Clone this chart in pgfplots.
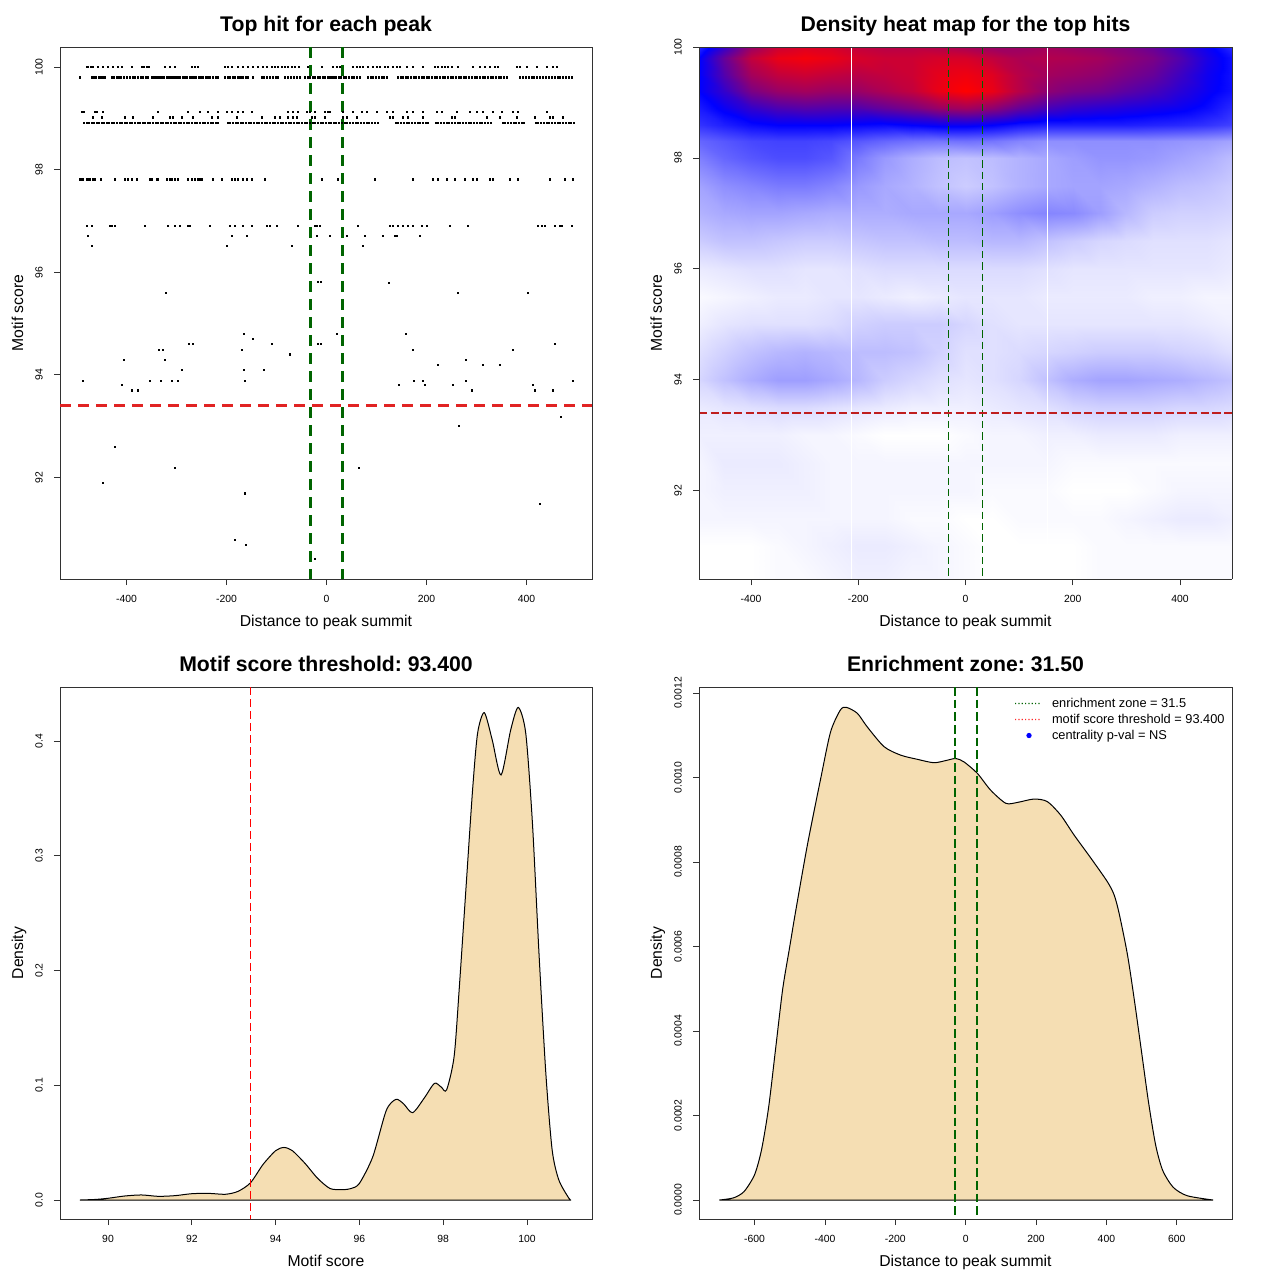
\documentclass[border=0pt]{standalone}
\usepackage{pgfplots}
\pgfplotsset{compat=1.18}
\usepackage{fontspec}
\setmainfont{Liberation Sans}
\definecolor{wheat}{RGB}{245,222,179}
\definecolor{dkgreen}{RGB}{0,100,0}
\definecolor{rline}{RGB}{225,35,35}
\definecolor{frm}{RGB}{50,50,50}
\pgfplotsset{
  rbase/.style={
    scale only axis, width=399pt, height=399pt,
    axis line style={frm, line width=0.6pt},
    every tick/.style={frm, line width=0.6pt},
    tick align=outside, major tick length=4.5pt,
    ticklabel style={font=\fontsize{7.8}{9}\selectfont},
    /pgf/number format/assume math mode=true,
    xticklabel style={anchor=base, yshift=-12.9pt},
    yticklabel style={rotate=90, anchor=south, inner xsep=0pt, inner ysep=8.25pt},
    label style={font=\fontsize{11.8}{14}\selectfont},
    xlabel style={at={(axis description cs:0.5,0)}, anchor=base, yshift=-35.25pt},
    ylabel style={at={(axis description cs:-0.0695,0.5)}, anchor=base},
    title style={font=\bfseries\fontsize{15.9}{19}\selectfont, at={(axis description cs:0.5,1)}, anchor=base, yshift=5.3pt},
  },
  sc/.style={only marks, mark=square*, mark size=0.45pt, black, mark options={draw=none}},
  leggreen/.style={legend image code/.code={\path[draw=none, fill=none] (0pt,-3pt) rectangle (27.75pt,3pt);
    \path[fill=dkgreen, draw=none] (0pt,-0.45pt) rectangle (0.9pt,0.45pt) (2.5pt,-0.45pt) rectangle (3.4pt,0.45pt) (5pt,-0.45pt) rectangle (5.9pt,0.45pt) (7.5pt,-0.45pt) rectangle (8.4pt,0.45pt) (10pt,-0.45pt) rectangle (10.9pt,0.45pt) (12.5pt,-0.45pt) rectangle (13.4pt,0.45pt) (15pt,-0.45pt) rectangle (15.9pt,0.45pt) (17.5pt,-0.45pt) rectangle (18.4pt,0.45pt);}},
  legred/.style={legend image code/.code={\path[draw=none, fill=none] (0pt,-3pt) rectangle (27.75pt,3pt);
    \path[fill=red!85, draw=none] (0pt,-0.45pt) rectangle (0.9pt,0.45pt) (2.5pt,-0.45pt) rectangle (3.4pt,0.45pt) (5pt,-0.45pt) rectangle (5.9pt,0.45pt) (7.5pt,-0.45pt) rectangle (8.4pt,0.45pt) (10pt,-0.45pt) rectangle (10.9pt,0.45pt) (12.5pt,-0.45pt) rectangle (13.4pt,0.45pt) (15pt,-0.45pt) rectangle (15.9pt,0.45pt) (17.5pt,-0.45pt) rectangle (18.4pt,0.45pt);}},
  legdot/.style={legend image code/.code={\path[draw=none, fill=none] (0pt,-3pt) rectangle (27.75pt,3pt); \path[fill=blue, draw=none] (10.5pt,0pt) circle (2pt);}},
}
\begin{document}
\frenchspacing
\begin{tikzpicture}
\path[use as bounding box, fill=white] (0pt,0pt) rectangle (960pt,-960pt);

% ---------------- Top left ----------------
\begin{axis}[rbase, at={(45pt,-434.25pt)}, anchor=south west,
  xmin=-533, xmax=531, ymin=90.02, ymax=100.39,
  xtick={-400,-200,0,200,400}, ytick={92,94,96,98,100},
  xtick pos=left, ytick pos=left,
  title={Top hit for each peak}, xlabel={Distance to peak summit}, ylabel={Motif score}]
\addplot[sc] coordinates {(-480,100) (-477,100) (-471,100) (-467,100) (-457,100) (-447,100) (-437,100) (-427,100) (-417,100) (-410,100) (-390,100) (-370,100) (-365,100) (-360,100) (-355,100) (-323,100) (-313,100) (-303,100) (-269,100) (-263,100) (-258,100) (-203,100) (-197,100) (-190,100) (-177,100) (-167,100) (-157,100) (-147,100) (-137,100) (-127,100) (-120,100) (-110,100) (-103,100) (-97,100) (-90,100) (-83,100) (-77,100) (-70,100) (-63,100) (-55,100) (-37,100) (-10,100) (13,100) (20,100) (27,100) (53,100) (60,100) (67,100) (73,100) (83,100) (93,100) (100,100) (107,100) (117,100) (123,100) (133,100) (140,100) (147,100) (160,100) (173,100) (193,100) (217,100) (223,100) (230,100) (237,100) (243,100) (250,100) (263,100) (293,100) (307,100) (317,100) (327,100) (337,100) (343,100) (380,100) (387,100) (400,100) (420,100) (440,100) (453,100) (460,100)};
\addplot[sc] coordinates {(-493,99.8) (-470,99.8) (-465,99.8) (-461,99.8) (-456,99.8) (-452,99.8) (-447,99.8) (-443,99.8) (-430,99.8) (-425,99.8) (-420,99.8) (-416,99.8) (-411,99.8) (-405,99.8) (-400,99.8) (-393,99.8) (-388,99.8) (-383,99.8) (-378,99.8) (-372,99.8) (-367,99.8) (-362,99.8) (-357,99.8) (-350,99.8) (-346,99.8) (-342,99.8) (-337,99.8) (-333,99.8) (-329,99.8) (-325,99.8) (-320,99.8) (-316,99.8) (-312,99.8) (-308,99.8) (-304,99.8) (-300,99.8) (-297,99.8) (-293,99.8) (-288,99.8) (-284,99.8) (-279,99.8) (-274,99.8) (-270,99.8) (-265,99.8) (-261,99.8) (-256,99.8) (-252,99.8) (-247,99.8) (-242,99.8) (-237,99.8) (-233,99.8) (-228,99.8) (-222,99.8) (-217,99.8) (-203,99.8) (-198,99.8) (-193,99.8) (-188,99.8) (-183,99.8) (-178,99.8) (-174,99.8) (-170,99.8) (-167,99.8) (-162,99.8) (-157,99.8) (-147,99.8) (-130,99.8) (-125,99.8) (-119,99.8) (-113,99.8) (-108,99.8) (-102,99.8) (-97,99.8) (-83,99.8) (-78,99.8) (-72,99.8) (-66,99.8) (-60,99.8) (-53,99.8) (-43,99.8) (-38,99.8) (-33,99.8) (-28,99.8) (-23,99.8) (-18,99.8) (-13,99.8) (-8,99.8) (-3,99.8) (2,99.8) (6,99.8) (10,99.8) (14,99.8) (19,99.8) (24,99.8) (29,99.8) (34,99.8) (39,99.8) (44,99.8) (50,99.8) (55,99.8) (61,99.8) (67,99.8) (83,99.8) (88,99.8) (93,99.8) (99,99.8) (104,99.8) (110,99.8) (115,99.8) (120,99.8) (143,99.8) (148,99.8) (153,99.8) (158,99.8) (163,99.8) (168,99.8) (174,99.8) (179,99.8) (184,99.8) (190,99.8) (195,99.8) (200,99.8) (205,99.8) (211,99.8) (216,99.8) (221,99.8) (226,99.8) (232,99.8) (237,99.8) (242,99.8) (248,99.8) (253,99.8) (258,99.8) (264,99.8) (269,99.8) (274,99.8) (279,99.8) (285,99.8) (290,99.8) (296,99.8) (301,99.8) (306,99.8) (312,99.8) (317,99.8) (322,99.8) (328,99.8) (333,99.8) (338,99.8) (344,99.8) (349,99.8) (355,99.8) (360,99.8) (387,99.8) (393,99.8) (398,99.8) (404,99.8) (410,99.8) (415,99.8) (421,99.8) (427,99.8) (433,99.8) (438,99.8) (444,99.8) (450,99.8) (456,99.8) (462,99.8) (467,99.8) (473,99.8) (479,99.8) (485,99.8) (490,99.8)};
\addplot[sc] coordinates {(-489,99.12) (-485,99.12) (-463,99.12) (-460,99.12) (-447,99.12) (-337,99.12) (-277,99.12) (-253,99.12) (-237,99.12) (-217,99.12) (-200,99.12) (-190,99.12) (-177,99.12) (-167,99.12) (-150,99.12) (-77,99.12) (-67,99.12) (-57,99.12) (-40,99.12) (-33,99.12) (-23,99.12) (-3,99.12) (3,99.12) (7,99.12) (33,99.12) (53,99.12) (70,99.12) (80,99.12) (100,99.12) (120,99.12) (133,99.12) (160,99.12) (173,99.12) (193,99.12) (220,99.12) (230,99.12) (260,99.12) (287,99.12) (300,99.12) (313,99.12) (333,99.12) (350,99.12) (373,99.12) (383,99.12) (440,99.12)};
\addplot[sc] coordinates {(-467,99.02) (-450,99.02) (-403,99.02) (-387,99.02) (-347,99.02) (-313,99.02) (-307,99.02) (-290,99.02) (-267,99.02) (-230,99.02) (-217,99.02) (-180,99.02) (-130,99.02) (-103,99.02) (-93,99.02) (-77,99.02) (-67,99.02) (-60,99.02) (-30,99.02) (-23,99.02) (-3,99.02) (33,99.02) (40,99.02) (60,99.02) (127,99.02) (133,99.02) (153,99.02) (163,99.02) (193,99.02) (250,99.02) (257,99.02) (320,99.02) (347,99.02) (380,99.02) (417,99.02) (447,99.02) (453,99.02) (473,99.02)};
\addplot[sc] coordinates {(-485,98.91) (-480,98.91) (-475,98.91) (-470,98.91) (-465,98.91) (-460,98.91) (-455,98.91) (-450,98.91) (-445,98.91) (-440,98.91) (-435,98.91) (-430,98.91) (-425,98.91) (-420,98.91) (-414,98.91) (-409,98.91) (-404,98.91) (-399,98.91) (-394,98.91) (-389,98.91) (-384,98.91) (-378,98.91) (-373,98.91) (-368,98.91) (-363,98.91) (-358,98.91) (-353,98.91) (-348,98.91) (-342,98.91) (-337,98.91) (-332,98.91) (-327,98.91) (-322,98.91) (-317,98.91) (-312,98.91) (-306,98.91) (-301,98.91) (-296,98.91) (-291,98.91) (-286,98.91) (-280,98.91) (-275,98.91) (-270,98.91) (-264,98.91) (-259,98.91) (-254,98.91) (-248,98.91) (-243,98.91) (-238,98.91) (-232,98.91) (-227,98.91) (-222,98.91) (-217,98.91) (-198,98.91) (-193,98.91) (-188,98.91) (-182,98.91) (-177,98.91) (-172,98.91) (-167,98.91) (-161,98.91) (-156,98.91) (-151,98.91) (-146,98.91) (-140,98.91) (-135,98.91) (-130,98.91) (-124,98.91) (-119,98.91) (-114,98.91) (-108,98.91) (-103,98.91) (-98,98.91) (-92,98.91) (-87,98.91) (-82,98.91) (-76,98.91) (-71,98.91) (-66,98.91) (-60,98.91) (-55,98.91) (-50,98.91) (-44,98.91) (-39,98.91) (-34,98.91) (-28,98.91) (-23,98.91) (-18,98.91) (-12,98.91) (-7,98.91) (-2,98.91) (4,98.91) (9,98.91) (14,98.91) (19,98.91) (25,98.91) (30,98.91) (36,98.91) (41,98.91) (47,98.91) (52,98.91) (58,98.91) (63,98.91) (69,98.91) (74,98.91) (80,98.91) (85,98.91) (91,98.91) (96,98.91) (102,98.91) (138,98.91) (143,98.91) (149,98.91) (154,98.91) (160,98.91) (165,98.91) (171,98.91) (176,98.91) (182,98.91) (187,98.91) (193,98.91) (198,98.91) (203,98.91) (218,98.91) (223,98.91) (229,98.91) (234,98.91) (240,98.91) (245,98.91) (251,98.91) (256,98.91) (262,98.91) (267,98.91) (273,98.91) (278,98.91) (284,98.91) (289,98.91) (295,98.91) (300,98.91) (306,98.91) (311,98.91) (317,98.91) (322,98.91) (328,98.91) (352,98.91) (357,98.91) (363,98.91) (368,98.91) (374,98.91) (379,98.91) (385,98.91) (390,98.91) (395,98.91) (418,98.91) (423,98.91) (429,98.91) (434,98.91) (440,98.91) (445,98.91) (451,98.91) (456,98.91) (462,98.91) (467,98.91) (473,98.91) (478,98.91) (484,98.91) (489,98.91) (494,98.91)};
\addplot[sc] coordinates {(-493,97.81) (-490,97.81) (-487,97.81) (-480,97.81) (-477,97.81) (-473,97.81) (-467,97.81) (-463,97.81) (-451,97.81) (-423,97.81) (-403,97.81) (-397,97.81) (-390,97.81) (-380,97.81) (-353,97.81) (-350,97.81) (-340,97.81) (-337,97.81) (-320,97.81) (-313,97.81) (-310,97.81) (-303,97.81) (-297,97.81) (-277,97.81) (-270,97.81) (-263,97.81) (-257,97.81) (-253,97.81) (-250,97.81) (-227,97.81) (-210,97.81) (-190,97.81) (-183,97.81) (-177,97.81) (-167,97.81) (-160,97.81) (-150,97.81) (-123,97.81) (-10,97.81) (23,97.81) (97,97.81) (173,97.81) (213,97.81) (223,97.81) (240,97.81) (257,97.81) (277,97.81) (293,97.81) (300,97.81) (327,97.81) (333,97.81) (367,97.81) (383,97.81) (447,97.81) (477,97.81) (493,97.81)};
\addplot[sc] coordinates {(-480,96.9) (-470,96.9) (-433,96.9) (-430,96.9) (-423,96.9) (-363,96.9) (-317,96.9) (-303,96.9) (-293,96.9) (-277,96.9) (-273,96.9) (-233,96.9) (-193,96.9) (-183,96.9) (-167,96.9) (-150,96.9) (-120,96.9) (-113,96.9) (-100,96.9) (-57,96.9) (-23,96.9) (-20,96.9) (-13,96.9) (63,96.9) (127,96.9) (133,96.9) (143,96.9) (153,96.9) (163,96.9) (173,96.9) (190,96.9) (200,96.9) (247,96.9) (283,96.9) (423,96.9) (430,96.9) (437,96.9) (457,96.9) (467,96.9) (470,96.9) (490,96.9)
 (-478,96.71) (-190,96.71) (-160,96.71) (-20,96.71) (7,96.71) (40,96.71) (77,96.71) (113,96.71) (137,96.71) (140,96.71) (187,96.71)
 (-470,96.51) (-200,96.51) (-70,96.51) (73,96.51)};
\addplot[sc] coordinates {(-321,95.6) (-17,95.81) (-12,95.81) (-165,94.8) (-147,94.7) (-109,94.6) (-275,94.6) (-268,94.6) (-17,94.6) (-12,94.6) (-335,94.49) (-328,94.49) (-170,94.49) (-406,94.3) (-324,94.3) (-73,94.4) (-289,94.1) (-166,94.1) (-125,94.1) (-487,93.89) (-353,93.89) (-332,93.89) (-310,93.89) (-298,93.89) (-163,93.89) (-410,93.8) (-390,93.7) (-378,93.7) (-423,92.59) (-304,92.19) (-448,91.89) (-163,91.69) (-183,90.79) (-161,90.69) (-23,90.42)
 (125,95.8) (263,95.6) (403,95.6) (21,94.8) (158,94.8) (457,94.6) (173,94.49) (373,94.49) (279,94.3) (223,94.19) (313,94.19) (347,94.19) (174,93.89) (193,93.89) (279,93.89) (493,93.89) (145,93.8) (196,93.8) (252,93.8) (413,93.8) (291,93.7) (417,93.7) (452,93.7) (469,93.19) (264,93.0) (65,92.19) (427,91.49)};
\addplot[dkgreen, line width=2pt, dash pattern=on 8.25pt off 5.25pt] coordinates {(-31.5,100.39) (-31.5,90.02)};
\addplot[dkgreen, line width=2pt, dash pattern=on 8.25pt off 5.25pt] coordinates {(31.5,100.39) (31.5,90.02)};
\addplot[rline, line width=2pt, dash pattern=on 8.25pt off 5.25pt] coordinates {(-533,93.4) (531,93.4)};
\end{axis}

% ---------------- Top right ----------------
\begin{axis}[rbase, at={(524.25pt,-434.25pt)}, anchor=south west, width=399.75pt,
  view={0}{90}, axis on top,
  xmin=-497, xmax=497, ymin=90.41, ymax=100, zmin=0, zmax=2,
  xtick={-400,-200,0,200,400}, ytick={92,94,96,98,100}, ztick=\empty,
  xtick pos=left, ytick pos=left,
  colormap={wbr}{rgb255=(255,255,255) rgb255=(0,0,255) rgb255=(255,0,0)},
  point meta min=0, point meta max=1,
  title={Density heat map for the top hits}, xlabel={Distance to peak summit}, ylabel={Motif score}]
\addplot3[surf, shader=interp, mesh/rows=23, mesh/cols=21] table[row sep=\\] {
x y z\\
-497 90.41 0\\ -450 90.41 0\\ -400 90.41 0\\ -350 90.41 0.01\\ -300 90.41 0.01\\ -250 90.41 0.02\\ -200 90.41 0.03\\ -150 90.41 0.03\\ -100 90.41 0.02\\ -50 90.41 0.02\\ 0 90.41 0.01\\ 50 90.41 0\\ 100 90.41 0\\ 150 90.41 0\\ 200 90.41 0\\ 250 90.41 0.01\\ 300 90.41 0.01\\ 350 90.41 0.01\\ 400 90.41 0.01\\ 450 90.41 0.01\\ 497 90.41 0.01\\
-497 91 0\\ -450 91 0\\ -400 91 0\\ -350 91 0.01\\ -300 91 0.02\\ -250 91 0.03\\ -200 91 0.04\\ -150 91 0.04\\ -100 91 0.03\\ -50 91 0.02\\ 0 91 0.01\\ 50 91 0\\ 100 91 0\\ 150 91 0\\ 200 91 0\\ 250 91 0.01\\ 300 91 0.01\\ 350 91 0.01\\ 400 91 0.01\\ 450 91 0.01\\ 497 91 0.01\\
-497 91.5 0.02\\ -450 91.5 0.02\\ -400 91.5 0.02\\ -350 91.5 0.02\\ -300 91.5 0.02\\ -250 91.5 0.02\\ -200 91.5 0.02\\ -150 91.5 0.02\\ -100 91.5 0.01\\ -50 91.5 0.01\\ 0 91.5 0\\ 50 91.5 0\\ 100 91.5 0.01\\ 150 91.5 0.01\\ 200 91.5 0.01\\ 250 91.5 0.01\\ 300 91.5 0.02\\ 350 91.5 0.03\\ 400 91.5 0.04\\ 450 91.5 0.04\\ 497 91.5 0.03\\
-497 92 0.02\\ -450 92 0.03\\ -400 92 0.03\\ -350 92 0.03\\ -300 92 0.03\\ -250 92 0.02\\ -200 92 0.02\\ -150 92 0.02\\ -100 92 0.02\\ -50 92 0.02\\ 0 92 0.02\\ 50 92 0.01\\ 100 92 0.01\\ 150 92 0.01\\ 200 92 0\\ 250 92 0\\ 300 92 0\\ 350 92 0.01\\ 400 92 0.02\\ 450 92 0.02\\ 497 92 0.02\\
-497 92.5 0.02\\ -450 92.5 0.04\\ -400 92.5 0.04\\ -350 92.5 0.04\\ -300 92.5 0.03\\ -250 92.5 0.02\\ -200 92.5 0.02\\ -150 92.5 0.02\\ -100 92.5 0.02\\ -50 92.5 0.02\\ 0 92.5 0.02\\ 50 92.5 0.02\\ 100 92.5 0.02\\ 150 92.5 0.02\\ 200 92.5 0.01\\ 250 92.5 0.01\\ 300 92.5 0.01\\ 350 92.5 0.01\\ 400 92.5 0.01\\ 450 92.5 0.01\\ 497 92.5 0.01\\
-497 93 0.03\\ -450 93 0.03\\ -400 93 0.03\\ -350 93 0.03\\ -300 93 0.02\\ -250 93 0.02\\ -200 93 0.01\\ -150 93 0\\ -100 93 0\\ -50 93 0\\ 0 93 0.01\\ 50 93 0.02\\ 100 93 0.02\\ 150 93 0.03\\ 200 93 0.03\\ 250 93 0.04\\ 300 93 0.04\\ 350 93 0.04\\ 400 93 0.03\\ 450 93 0.03\\ 497 93 0.03\\
-497 93.5 0.04\\ -450 93.5 0.05\\ -400 93.5 0.06\\ -350 93.5 0.07\\ -300 93.5 0.07\\ -250 93.5 0.06\\ -200 93.5 0.05\\ -150 93.5 0.04\\ -100 93.5 0.03\\ -50 93.5 0.03\\ 0 93.5 0.03\\ 50 93.5 0.04\\ 100 93.5 0.05\\ 150 93.5 0.06\\ 200 93.5 0.08\\ 250 93.5 0.09\\ 300 93.5 0.09\\ 350 93.5 0.09\\ 400 93.5 0.08\\ 450 93.5 0.08\\ 497 93.5 0.07\\
-497 94 0.08\\ -450 94 0.12\\ -400 94 0.16\\ -350 94 0.19\\ -300 94 0.19\\ -250 94 0.17\\ -200 94 0.14\\ -150 94 0.10\\ -100 94 0.08\\ -50 94 0.06\\ 0 94 0.05\\ 50 94 0.06\\ 100 94 0.08\\ 150 94 0.12\\ 200 94 0.16\\ 250 94 0.18\\ 300 94 0.18\\ 350 94 0.17\\ 400 94 0.16\\ 450 94 0.14\\ 497 94 0.12\\
-497 94.5 0.06\\ -450 94.5 0.09\\ -400 94.5 0.12\\ -350 94.5 0.14\\ -300 94.5 0.15\\ -250 94.5 0.14\\ -200 94.5 0.13\\ -150 94.5 0.13\\ -100 94.5 0.12\\ -50 94.5 0.09\\ 0 94.5 0.06\\ 50 94.5 0.06\\ 100 94.5 0.07\\ 150 94.5 0.08\\ 200 94.5 0.09\\ 250 94.5 0.10\\ 300 94.5 0.10\\ 350 94.5 0.10\\ 400 94.5 0.09\\ 450 94.5 0.08\\ 497 94.5 0.06\\
-497 95 0.03\\ -450 95 0.05\\ -400 95 0.06\\ -350 95 0.06\\ -300 95 0.06\\ -250 95 0.07\\ -200 95 0.09\\ -150 95 0.10\\ -100 95 0.10\\ -50 95 0.10\\ 0 95 0.08\\ 50 95 0.06\\ 100 95 0.05\\ 150 95 0.05\\ 200 95 0.05\\ 250 95 0.05\\ 300 95 0.05\\ 350 95 0.05\\ 400 95 0.05\\ 450 95 0.04\\ 497 95 0.03\\
-497 95.5 0.01\\ -450 95.5 0.02\\ -400 95.5 0.03\\ -350 95.5 0.04\\ -300 95.5 0.04\\ -250 95.5 0.05\\ -200 95.5 0.05\\ -150 95.5 0.04\\ -100 95.5 0.03\\ -50 95.5 0.04\\ 0 95.5 0.05\\ 50 95.5 0.05\\ 100 95.5 0.05\\ 150 95.5 0.04\\ 200 95.5 0.04\\ 250 95.5 0.04\\ 300 95.5 0.04\\ 350 95.5 0.03\\ 400 95.5 0.03\\ 450 95.5 0.02\\ 497 95.5 0.02\\
-497 96 0.04\\ -450 96 0.05\\ -400 96 0.06\\ -350 96 0.06\\ -300 96 0.05\\ -250 96 0.05\\ -200 96 0.06\\ -150 96 0.07\\ -100 96 0.07\\ -50 96 0.07\\ 0 96 0.07\\ 50 96 0.07\\ 100 96 0.07\\ 150 96 0.06\\ 200 96 0.05\\ 250 96 0.05\\ 300 96 0.05\\ 350 96 0.05\\ 400 96 0.05\\ 450 96 0.05\\ 497 96 0.04\\
-497 96.5 0.10\\ -450 96.5 0.12\\ -400 96.5 0.12\\ -350 96.5 0.11\\ -300 96.5 0.10\\ -250 96.5 0.10\\ -200 96.5 0.11\\ -150 96.5 0.12\\ -100 96.5 0.12\\ -50 96.5 0.13\\ 0 96.5 0.13\\ 50 96.5 0.14\\ 100 96.5 0.14\\ 150 96.5 0.12\\ 200 96.5 0.10\\ 250 96.5 0.08\\ 300 96.5 0.07\\ 350 96.5 0.06\\ 400 96.5 0.06\\ 450 96.5 0.06\\ 497 96.5 0.05\\
-497 97 0.15\\ -450 97 0.17\\ -400 97 0.18\\ -350 97 0.18\\ -300 97 0.17\\ -250 97 0.16\\ -200 97 0.16\\ -150 97 0.16\\ -100 97 0.17\\ -50 97 0.17\\ 0 97 0.17\\ 50 97 0.19\\ 100 97 0.22\\ 150 97 0.24\\ 200 97 0.23\\ 250 97 0.19\\ 300 97 0.14\\ 350 97 0.10\\ 400 97 0.09\\ 450 97 0.09\\ 497 97 0.08\\
-497 97.5 0.18\\ -450 97.5 0.22\\ -400 97.5 0.24\\ -350 97.5 0.26\\ -300 97.5 0.26\\ -250 97.5 0.24\\ -200 97.5 0.20\\ -150 97.5 0.17\\ -100 97.5 0.15\\ -50 97.5 0.12\\ 0 97.5 0.10\\ 50 97.5 0.12\\ 100 97.5 0.15\\ 150 97.5 0.17\\ 200 97.5 0.18\\ 250 97.5 0.18\\ 300 97.5 0.17\\ 350 97.5 0.15\\ 400 97.5 0.13\\ 450 97.5 0.12\\ 497 97.5 0.10\\
-497 98 0.25\\ -450 98 0.30\\ -400 98 0.33\\ -350 98 0.35\\ -300 98 0.35\\ -250 98 0.33\\ -200 98 0.26\\ -150 98 0.20\\ -100 98 0.16\\ -50 98 0.13\\ 0 98 0.12\\ 50 98 0.13\\ 100 98 0.15\\ 150 98 0.17\\ 200 98 0.19\\ 250 98 0.21\\ 300 98 0.21\\ 350 98 0.20\\ 400 98 0.18\\ 450 98 0.16\\ 497 98 0.13\\
-497 98.3 0.30\\ -450 98.3 0.33\\ -400 98.3 0.36\\ -350 98.3 0.37\\ -300 98.3 0.37\\ -250 98.3 0.36\\ -200 98.3 0.33\\ -150 98.3 0.30\\ -100 98.3 0.28\\ -50 98.3 0.27\\ 0 98.3 0.28\\ 50 98.3 0.27\\ 100 98.3 0.24\\ 150 98.3 0.22\\ 200 98.3 0.22\\ 250 98.3 0.22\\ 300 98.3 0.22\\ 350 98.3 0.22\\ 400 98.3 0.21\\ 450 98.3 0.20\\ 497 98.3 0.18\\
-497 98.6 0.40\\ -450 98.6 0.44\\ -400 98.6 0.48\\ -350 98.6 0.50\\ -300 98.6 0.50\\ -250 98.6 0.50\\ -200 98.6 0.49\\ -150 98.6 0.48\\ -100 98.6 0.50\\ -50 98.6 0.52\\ 0 98.6 0.52\\ 50 98.6 0.50\\ 100 98.6 0.46\\ 150 98.6 0.44\\ 200 98.6 0.44\\ 250 98.6 0.44\\ 300 98.6 0.44\\ 350 98.6 0.43\\ 400 98.6 0.42\\ 450 98.6 0.40\\ 497 98.6 0.37\\
-497 98.9 0.45\\ -450 98.9 0.52\\ -400 98.9 0.60\\ -350 98.9 0.65\\ -300 98.9 0.67\\ -250 98.9 0.66\\ -200 98.9 0.66\\ -150 98.9 0.70\\ -100 98.9 0.74\\ -50 98.9 0.80\\ 0 98.9 0.82\\ 50 98.9 0.78\\ 100 98.9 0.70\\ 150 98.9 0.64\\ 200 98.9 0.60\\ 250 98.9 0.58\\ 300 98.9 0.56\\ 350 98.9 0.54\\ 400 98.9 0.52\\ 450 98.9 0.48\\ 497 98.9 0.42\\
-497 99.2 0.50\\ -450 99.2 0.60\\ -400 99.2 0.74\\ -350 99.2 0.80\\ -300 99.2 0.82\\ -250 99.2 0.80\\ -200 99.2 0.80\\ -150 99.2 0.84\\ -100 99.2 0.88\\ -50 99.2 0.96\\ 0 99.2 1.00\\ 50 99.2 0.96\\ 100 99.2 0.86\\ 150 99.2 0.78\\ 200 99.2 0.74\\ 250 99.2 0.72\\ 300 99.2 0.68\\ 350 99.2 0.64\\ 400 99.2 0.58\\ 450 99.2 0.52\\ 497 99.2 0.47\\
-497 99.5 0.50\\ -450 99.5 0.66\\ -400 99.5 0.82\\ -350 99.5 0.88\\ -300 99.5 0.90\\ -250 99.5 0.88\\ -200 99.5 0.86\\ -150 99.5 0.88\\ -100 99.5 0.90\\ -50 99.5 0.95\\ 0 99.5 0.97\\ 50 99.5 0.94\\ 100 99.5 0.86\\ 150 99.5 0.82\\ 200 99.5 0.80\\ 250 99.5 0.78\\ 300 99.5 0.74\\ 350 99.5 0.70\\ 400 99.5 0.62\\ 450 99.5 0.53\\ 497 99.5 0.47\\
-497 99.8 0.50\\ -450 99.8 0.70\\ -400 99.8 0.88\\ -350 99.8 0.96\\ -300 99.8 0.98\\ -250 99.8 0.96\\ -200 99.8 0.92\\ -150 99.8 0.90\\ -100 99.8 0.90\\ -50 99.8 0.92\\ 0 99.8 0.92\\ 50 99.8 0.88\\ 100 99.8 0.84\\ 150 99.8 0.85\\ 200 99.8 0.84\\ 250 99.8 0.82\\ 300 99.8 0.78\\ 350 99.8 0.74\\ 400 99.8 0.66\\ 450 99.8 0.55\\ 497 99.8 0.47\\
-497 100 0.42\\ -450 100 0.60\\ -400 100 0.80\\ -350 100 0.90\\ -300 100 0.93\\ -250 100 0.92\\ -200 100 0.88\\ -150 100 0.86\\ -100 100 0.86\\ -50 100 0.85\\ 0 100 0.83\\ 50 100 0.80\\ 100 100 0.80\\ 150 100 0.82\\ 200 100 0.80\\ 250 100 0.78\\ 300 100 0.75\\ 350 100 0.70\\ 400 100 0.62\\ 450 100 0.52\\ 497 100 0.42\\
};
\addplot3[white, line width=0.75pt] coordinates {(-213.5,90.41,1.5) (-213.5,100,1.5)};
\addplot3[white, line width=0.75pt] coordinates {(153.8,90.41,1.5) (153.8,100,1.5)};
\addplot3[dkgreen, line width=1.1pt, dash pattern=on 5.5pt off 3pt] coordinates {(-31.5,100,1.5) (-31.5,90.41,1.5)};
\addplot3[dkgreen, line width=1.1pt, dash pattern=on 5.5pt off 3pt] coordinates {(31.5,100,1.5) (31.5,90.41,1.5)};
\addplot3[rline!85!black, line width=1.0pt, dash pattern=on 6.25pt off 2.5pt] coordinates {(-497,93.4,1.5) (497,93.4,1.5)};
\end{axis}

% ---------------- Bottom left ----------------
\begin{axis}[rbase, at={(45pt,-914.25pt)}, anchor=south west,
  xmin=88.854, xmax=101.551, ymin=-0.01656, ymax=0.44706,
  xtick={90,92,94,96,98,100}, ytick={0,0.1,0.2,0.3,0.4},
  xtick pos=left, ytick pos=left, scaled y ticks=false,
  yticklabel style={/pgf/number format/.cd, fixed, fixed zerofill, precision=1},
  title={Motif score threshold: 93.400}, xlabel={Motif score}, ylabel={Density}]
\addplot[fill=wheat, draw=black, line width=0.75pt, smooth, tension=0.45] coordinates {
(89.33,0) (89.7,0.0005) (90.0,0.0015) (90.4,0.0035) (90.8,0.0044) (91.2,0.0032) (91.6,0.0038) (92.0,0.0055) (92.4,0.0058) (92.8,0.0050) (93.1,0.0075) (93.4,0.0150) (93.7,0.0310) (94.0,0.0430) (94.2,0.0458) (94.4,0.0430) (94.7,0.0320) (95.0,0.0190) (95.3,0.0100) (95.6,0.0090) (95.8,0.0100) (96.0,0.0145) (96.32,0.0378) (96.64,0.0780) (96.87,0.0877) (97.05,0.0840) (97.27,0.0761) (97.55,0.0890) (97.79,0.1017) (97.95,0.0985) (98.08,0.0959) (98.26,0.1250) (98.38,0.1830) (98.54,0.2700) (98.70,0.3570) (98.82,0.4067) (98.98,0.4247) (99.17,0.4009) (99.38,0.3704) (99.61,0.4096) (99.79,0.4293) (99.97,0.4067) (100.13,0.3280) (100.29,0.2120) (100.45,0.1100) (100.60,0.0436) (100.76,0.0174) (101.0,0.0015) (101.05,0)} \closedcycle;
\addplot[red, line width=0.9pt, dash pattern=on 6pt off 3pt] coordinates {(93.4,0.44706) (93.4,-0.01656)};
\end{axis}

% ---------------- Bottom right ----------------
\begin{axis}[rbase, at={(524.25pt,-914.25pt)}, anchor=south west, width=399.75pt,
  xmin=-758, xmax=757, ymin=-0.000045, ymax=0.0012142,
  xtick={-600,-400,-200,0,200,400,600}, ytick={0,0.0002,0.0004,0.0006,0.0008,0.001,0.0012},
  xtick pos=left, ytick pos=left, scaled y ticks=false,
  yticklabel style={/pgf/number format/.cd, fixed, fixed zerofill, precision=4},
  title={Enrichment zone: 31.50}, xlabel={Distance to peak summit}, ylabel={Density},
  legend cell align=left,
  legend style={at={(axis description cs:0.5929,0.984)}, anchor=north west, draw=none, fill=none, inner sep=0pt, outer sep=0pt, column sep=0pt, row sep=0pt, font=\fontsize{9.6}{11}\selectfont, nodes={inner sep=0pt, text height=9pt, text depth=3pt}}]
\addplot[forget plot, fill=wheat, draw=black, line width=0.75pt, smooth, tension=0.45] coordinates {
(-700,0) (-660,0.000005) (-630,0.00002) (-600,0.00006) (-580,0.00012) (-560,0.00022) (-540,0.00036) (-520,0.0005) (-500,0.0006) (-484,0.00068) (-450,0.00084) (-412,0.000998) (-384,0.001108) (-356,0.00116) (-339,0.001166) (-308,0.001152) (-280,0.00112) (-232,0.001073) (-185,0.001053) (-137,0.001043) (-90,0.001035) (-52,0.001041) (-28,0.001045) (-5,0.001037) (33,0.00101) (71,0.00097) (114,0.000939) (147,0.000941) (194,0.000949) (232,0.000943) (270,0.000911) (308,0.000864) (356,0.000809) (403,0.000753) (422,0.000722) (436,0.000679) (460,0.00058) (480,0.00047) (500,0.00035) (520,0.00023) (540,0.00013) (560,0.00007) (590,0.00003) (630,0.00001) (703,0)} \closedcycle;
\addplot[forget plot, dkgreen, line width=1.4pt, dash pattern=on 6.5pt off 3pt] coordinates {(-31.5,0.0012142) (-31.5,-0.000045)};
\addplot[forget plot, dkgreen, line width=1.4pt, dash pattern=on 6.5pt off 3pt] coordinates {(31.5,0.0012142) (31.5,-0.000045)};
\addlegendimage{leggreen}
\addlegendentry{enrichment zone = 31.5}
\addlegendimage{legred}
\addlegendentry{motif score threshold = 93.400}
\addlegendimage{legdot}
\addlegendentry{centrality p-val = NS}
\end{axis}
\end{tikzpicture}
\end{document}
